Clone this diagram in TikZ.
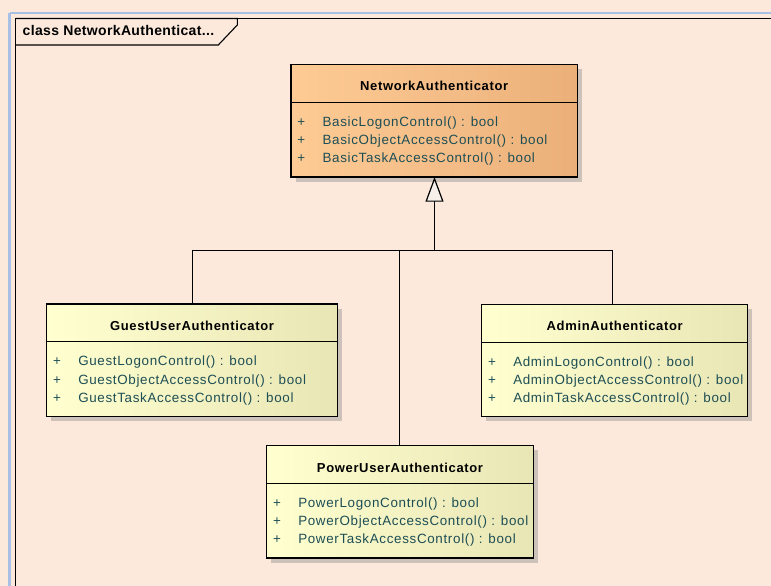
\documentclass[tikz,border=0pt]{standalone}
\usepackage{fontspec}
\setmainfont{Liberation Sans}
\newfontfamily\titlefont[LetterSpace=5]{Liberation Sans Bold}
\newfontfamily\tabfont[LetterSpace=2.5]{Liberation Sans Bold}
\newfontfamily\methfont[LetterSpace=5]{Liberation Sans}
\usetikzlibrary{arrows.meta,shadows}

\definecolor{canvas}{HTML}{FCE9DC}
\definecolor{frameblue}{HTML}{A9C0E6}
\definecolor{orangeL}{HTML}{FECB95}
\definecolor{orangeR}{HTML}{EBB07A}
\definecolor{yellowL}{HTML}{FFFFD0}
\definecolor{yellowR}{HTML}{E9E6B5}
\definecolor{opcolor}{HTML}{1D4E55}
\definecolor{shadowgray}{HTML}{C4BCB5}
\definecolor{tipfill}{HTML}{F7F0E8}

\tikzset{
  classbox/.style={draw=black, line width=1.3pt, rectangle, inner sep=0pt,
    minimum height=112.5pt,
    drop shadow={shadow xshift=4.5pt, shadow yshift=-4.5pt, fill=shadowgray, opacity=0.85}},
  abstractbox/.style={classbox, left color=orangeL, right color=orangeR},
  concretebox/.style={classbox, left color=yellowL, right color=yellowR},
  classname/.style={anchor=base, inner sep=0pt, font=\titlefont\fontsize{13}{15}\selectfont},
  opsign/.style={anchor=base, inner sep=0pt, text=opcolor, font=\methfont\fontsize{13.4}{15}\selectfont},
  optext/.style={anchor=base west, inner sep=0pt, text=opcolor, font=\methfont\fontsize{13.4}{15}\selectfont},
  sepline/.style={line width=1.1pt},
  generalization/.style={line width=1.2pt, -{Triangle[length=24.7pt,width=18pt,fill=tipfill,line width=1.2pt]}},
  branch/.style={line width=1.2pt}
}

% A class box: #1 name, #2 centre x, #3 top y, #4 width, #5 style, #6 title, #7-#9 operations
\newcommand{\umlclass}[9]{%
  \node[#5, minimum width=#4pt] (#1) at (#2, #3+56.25) {};
  \draw[sepline] ([yshift=-38.5pt]#1.north west) -- ([yshift=-38.5pt]#1.north east);
  \node[classname] (#1-title) at (#2, #3+26.5) {#6};
  \node[opsign] (#1-s1) at ([xshift=11pt,yshift=-62.5pt]#1.north west) {+};
  \node[opsign] (#1-s2) at ([xshift=11pt,yshift=-80.8pt]#1.north west) {+};
  \node[opsign] (#1-s3) at ([xshift=11pt,yshift=-99.1pt]#1.north west) {+};
  \node[optext] (#1-op1) at ([xshift=32pt,yshift=-62.5pt]#1.north west) {#7};
  \node[optext] (#1-op2) at ([xshift=32pt,yshift=-80.8pt]#1.north west) {#8};
  \node[optext] (#1-op3) at ([xshift=32pt,yshift=-99.1pt]#1.north west) {#9};
}

\begin{document}
\begin{tikzpicture}[x=1pt, y=-1pt]
  % canvas and diagram frame
  \fill[canvas] (0,0) rectangle (771,586);
  \useasboundingbox (0,0) rectangle (771,586);
  \draw[frameblue, line width=2.2pt] (9.5,13) -- (790,13);
  \draw[frameblue, line width=2.2pt] (9.5,13) -- (9.5,600);
  \draw[black, line width=1.2pt] (15.5,18.5) -- (790,18.5);
  \draw[black, line width=1.2pt] (15.5,18.5) -- (15.5,600);
  \draw[black, line width=1.1pt] (15.5,18.5) -- (237.3,18.5) -- (237.3,25) -- (218.3,45) -- (15.5,45);
  \node[anchor=base west, inner sep=0pt, font=\tabfont\fontsize{14}{16}\selectfont]
    (frametitle) at (22.5,36) {class NetworkAuthenticat...};

  % classes
  \umlclass{net}{434.2}{64.5}{286.3}{abstractbox}{NetworkAuthenticator}
    {BasicLogonControl() : bool}{BasicObjectAccessControl() : bool}{BasicTaskAccessControl() : bool}
  \umlclass{guest}{192}{304}{290.6}{concretebox}{GuestUserAuthenticator}
    {GuestLogonControl() : bool}{GuestObjectAccessControl() : bool}{GuestTaskAccessControl() : bool}
  \umlclass{admin}{614.7}{304.3}{266}{concretebox}{AdminAuthenticator}
    {AdminLogonControl() : bool}{AdminObjectAccessControl() : bool}{AdminTaskAccessControl() : bool}
  \umlclass{power}{400}{445.5}{266.6}{concretebox}{PowerUserAuthenticator}
    {PowerLogonControl() : bool}{PowerObjectAccessControl() : bool}{PowerTaskAccessControl() : bool}

  % attachment points of the generalization tree
  \coordinate (guest-top) at (192.5,304);
  \coordinate (admin-top) at (612.5,304.3);
  \coordinate (power-top) at (399.5,445.5);
  \coordinate (net-bottom) at (434.5,177);
  \coordinate (join) at (434.5,250.5);

  % generalization tree
  \draw[branch] (guest-top) |- (join);
  \draw[branch] (admin-top) |- (join);
  \draw[branch] (power-top) |- (join);
  \draw[generalization] (join) -- (net-bottom);
\end{tikzpicture}
\end{document}
